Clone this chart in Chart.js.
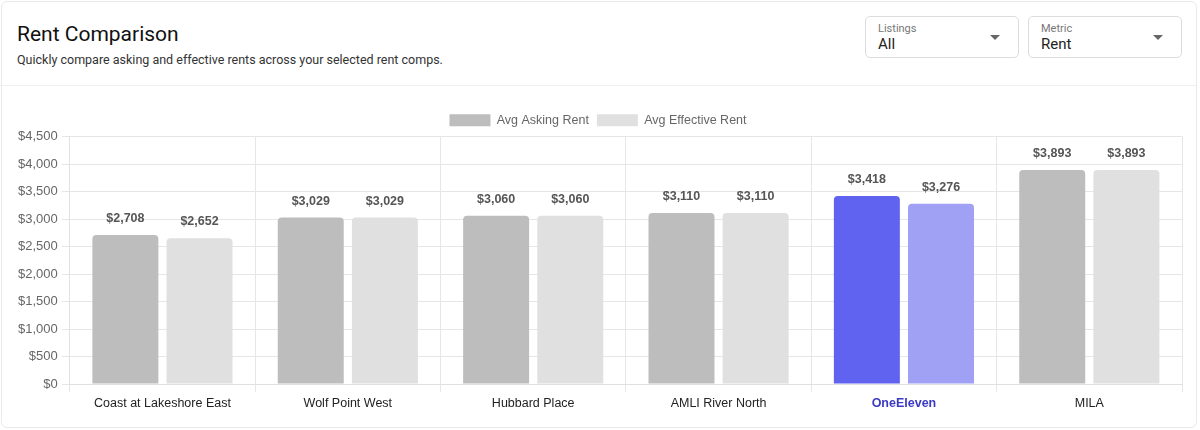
<!DOCTYPE html>
<html>
<head>
<meta charset="utf-8">
<script src="https://cdn.jsdelivr.net/npm/chart.js@4.4.0/dist/chart.umd.min.js"></script>
<style>
  html, body { margin:0; padding:0; background:#fff; width:1200px; height:430px; overflow:hidden; }
  .card { position:absolute; left:1px; top:1px; width:1196px; height:427px; border:1px solid #e9e9e9; border-radius:6px; box-sizing:border-box; background:#fff; }
  .title { position:absolute; left:17px; top:22px; font-family:Roboto, sans-serif; font-size:21px; color:#111; font-weight:400; }
  .sub { position:absolute; left:17px; top:52px; font-family:Roboto, sans-serif; font-size:12.5px; color:#333; }
  .divider { position:absolute; left:0; top:85px; width:1196px; height:1px; background:#efefef; }
  .dd { position:absolute; top:16px; width:154px; height:42px; border:1px solid #dcdcdc; border-radius:5px; box-sizing:border-box; font-family:Roboto, sans-serif; }
  .dd .lab { position:absolute; left:12px; top:5px; font-size:11px; color:#777; }
  .dd .val { position:absolute; left:12px; top:18px; font-size:15px; color:#222; }
  .dd .caret { position:absolute; right:18px; top:18px; width:0; height:0; border-left:5px solid transparent; border-right:5px solid transparent; border-top:5px solid #666; }
  #wrap { position:absolute; left:10px; top:98px; width:1180px; height:317px; }
</style>
</head>
<body>
<div class="card"></div>
<div class="title">Rent Comparison</div>
<div class="sub">Quickly compare asking and effective rents across your selected rent comps.</div>
<div class="divider"></div>
<div class="dd" style="left:865px;"><div class="lab">Listings</div><div class="val">All</div><div class="caret"></div></div>
<div class="dd" style="left:1028px;"><div class="lab">Metric</div><div class="val">Rent</div><div class="caret"></div></div>
<div id="wrap"><canvas id="c"></canvas></div>
<script>
const categories = ["Coast at Lakeshore East", "Wolf Point West", "Hubbard Place", "AMLI River North", "OneEleven", "MILA"];
const askingRent = [2708, 3029, 3060, 3110, 3418, 3893];
const effectiveRent = [2652, 3029, 3060, 3110, 3276, 3893];
const seriesNames = ["Avg Asking Rent", "Avg Effective Rent"];
const highlighted = "OneEleven";
const yTicks = [0, 500, 1000, 1500, 2000, 2500, 3000, 3500, 4000, 4500];

const askColors = categories.map(c => c === highlighted ? "#6063ef" : "#bdbdbd");
const effColors = categories.map(c => c === highlighted ? "#a0a1f5" : "#e0e0e0");

const fmt = v => "$" + v.toLocaleString("en-US");
const FONT = "'Liberation Sans', Arial, sans-serif";

const valueLabels = {
  id: "valueLabels",
  afterDatasetsDraw(chart) {
    const ctx = chart.ctx;
    ctx.save();
    ctx.font = "bold 12.5px " + FONT;
    ctx.fillStyle = "#555";
    ctx.textAlign = "center";
    ctx.textBaseline = "bottom";
    chart.data.datasets.forEach((ds, i) => {
      const meta = chart.getDatasetMeta(i);
      meta.data.forEach((bar, j) => {
        ctx.fillText(fmt(ds.data[j]), bar.x, bar.y - 10);
      });
    });
    ctx.restore();
  }
};

new Chart(document.getElementById("c"), {
  type: "bar",
  data: {
    labels: categories,
    datasets: [
      { label: seriesNames[0], data: askingRent, backgroundColor: askColors, borderRadius: 4, borderSkipped: "bottom" },
      { label: seriesNames[1], data: effectiveRent, backgroundColor: effColors, borderRadius: 4, borderSkipped: "bottom" }
    ]
  },
  options: {
    responsive: true,
    maintainAspectRatio: false,
    animation: false,
    categoryPercentage: 0.8,
    barPercentage: 0.89,
    layout: { padding: { left: 4, right: 8, top: 8, bottom: 0 } },
    plugins: {
      legend: {
        position: "top",
        labels: {
          boxWidth: 41, boxHeight: 12,
          color: "#666",
          font: { family: FONT, size: 12.5 },
          padding: 8,
          generateLabels(chart) {
            return chart.data.datasets.map((ds, i) => ({
              text: ds.label,
              fillStyle: i === 0 ? "#bdbdbd" : "#e0e0e0",
              strokeStyle: "rgba(0,0,0,0)",
              lineWidth: 0,
              hidden: false,
              datasetIndex: i,
              fontColor: "#666"
            }));
          }
        }
      },
      tooltip: { enabled: false }
    },
    scales: {
      x: {
        grid: { offset: true, color: "#e6e6e6", tickLength: 8, drawTicks: true },
        border: { color: "#e0e0e0" },
        ticks: {
          color: ctx => categories[ctx.index] === highlighted ? "#3b3bc4" : "#222",
          font: ctx => ({ family: FONT, size: 12.5, weight: categories[ctx.index] === highlighted ? "bold" : "normal" }),
          padding: 4
        }
      },
      y: {
        min: yTicks[0],
        max: yTicks[yTicks.length - 1],
        afterBuildTicks(axis) { axis.ticks = yTicks.map(v => ({ value: v })); },
        grid: { color: "#e6e6e6", tickLength: 8 },
        border: { color: "#e0e0e0" },
        ticks: {
          color: "#666",
          font: { family: FONT, size: 13 },
          padding: 4,
          callback: v => fmt(v)
        }
      }
    }
  },
  plugins: [valueLabels]
});
</script>
</body>
</html>
